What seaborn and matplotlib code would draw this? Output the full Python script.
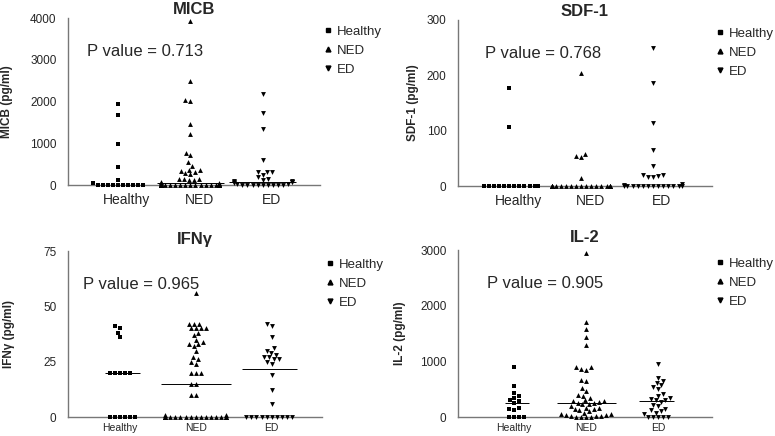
import matplotlib
matplotlib.use('Agg')

import numpy as np
import matplotlib.pyplot as plt
import matplotlib.transforms as mtransforms
from matplotlib.lines import Line2D
import seaborn as sns

sns.set_style("white")
plt.rcParams['font.family'] = ['Liberation Sans', 'DejaVu Sans']

# --- Daten ---
groups = ["Healthy", "NED", "ED"]
markers = ["s", "^", "v"]

micb_healthy = [1950, 1670, 980, 430, 120, 40] + [0] * 10
micb_ned = [3920, 2500, 2040, 2020, 1460, 1220, 760, 720, 540, 460, 370, 350, 330,
            300, 280, 260, 150, 140, 140, 130, 110, 60, 50, 40, 30, 20, 10] + [0] * 20
micb_ed = [2180, 1720, 1330, 600, 320, 310, 300, 250, 180, 150, 120, 100, 90, 80,
           70, 60, 40, 30, 20, 10] + [0] * 8

sdf_healthy = [178, 107] + [0] * 12
sdf_ned = [205, 58, 55, 52, 15] + [0] * 20
sdf_ed = [250, 187, 113, 65, 37, 20, 19, 18, 17, 16, 3, 2] + [0] * 13

ifn_healthy = [41, 40, 38, 36, 20, 20, 20, 20, 20] + [0] * 6
ifn_ned = [56, 42, 42, 42, 40, 40, 40, 40, 38, 37, 35, 34, 33, 33, 32, 30, 27, 26,
           25, 24, 20, 20, 20, 15, 15, 10, 10, 1, 1] + [0] * 18
ifn_ed = [42, 41, 36, 31, 30, 29, 28, 27, 27, 26, 26, 25, 24, 19, 12, 6] + [0] * 10

il2_healthy = [900, 550, 430, 380, 340, 300, 290, 250, 160, 150, 130, 0, 0, 0, 0]
il2_ned = [2950, 1700, 1580, 1430, 1300, 900, 890, 860, 850, 670, 640, 520, 470, 400,
           380, 350, 300, 290, 280, 270, 260, 250, 240, 230, 200, 170, 160, 150, 140,
           120, 100, 80, 60, 50, 40, 30, 20, 20, 10, 0, 0, 0, 0]
il2_ed = [960, 700, 650, 610, 570, 530, 500, 420, 380, 350, 330, 310, 300, 265, 220,
          190, 150, 120, 100, 80, 50, 0, 0, 0, 0, 0]

titles = ["MICB", "SDF-1", "IFNγ", "IL-2"]
ylabels = ["MICB (pg/ml)", "SDF-1 (pg/ml)", "IFNγ (pg/ml)", "IL-2 (pg/ml)"]
pvalues = ["0.713", "0.768", "0.965", "0.905"]
yticks = [[0, 1000, 2000, 3000, 4000], [0, 100, 200, 300],
          [0, 25, 50, 75], [0, 1000, 2000, 3000]]
panel_data = [
    [micb_healthy, micb_ned, micb_ed],
    [sdf_healthy, sdf_ned, sdf_ed],
    [ifn_healthy, ifn_ned, ifn_ed],
    [il2_healthy, il2_ned, il2_ed],
]

# --- Layout ---
W, H = 775, 436
fig = plt.figure(figsize=(W / 100, H / 100), dpi=100)

# (links, rechts, oben, unten) in Pixeln
boxes = [(68, 320, 18, 185), (458, 712, 20, 186), (68, 322, 251, 417), (458, 712, 250, 417)]
xlims = [(-0.69, 2.79), (-0.71, 2.82), (-0.68, 2.66), (-0.78, 2.75)]
ptext_x = [0.075, 0.106, 0.06, 0.114]
ylabel_x = [-0.218, -0.154, -0.209, -0.205]
title_y = [1.05, 1.05, 1.072, 1.072]

axes = []
group_colls = []
for i in range(4):
    l, r, t, b = boxes[i]
    ax = fig.add_axes([l / W, 1 - b / H, (r - l) / W, (b - t) / H])
    axes.append(ax)
    colls = []
    for g, m, vals in zip(groups, markers, panel_data[i]):
        n_before = len(ax.collections)
        sns.swarmplot(x=[g] * len(vals), y=vals, order=groups, color='black', marker=m,
                      size=3.5, linewidth=0, ax=ax, warn_thresh=1.0)
        new = [c for c in ax.collections[n_before:] if len(c.get_offsets()) > 0]
        colls.append(new[0])
    group_colls.append(colls)
    for coll in ax.collections:
        coll.set_clip_on(False)

    ax.set_xlim(*xlims[i])
    ax.set_ylim(0, yticks[i][-1])
    ax.set_yticks(yticks[i])
    ax.set_xlabel('')
    ax.set_ylabel(ylabels[i], fontsize=8.5, fontweight='bold')
    ax.yaxis.set_label_coords(ylabel_x[i], 0.5)

    for s in ['top', 'right']:
        ax.spines[s].set_visible(False)
    for s in ['left', 'bottom']:
        ax.spines[s].set_color('#777777')
        ax.spines[s].set_linewidth(1.0)

    ax.tick_params(axis='y', length=2.2, width=0.8, color='#777777', labelsize=8.5, pad=6)
    if i < 2:
        ax.tick_params(axis='x', length=0, labelsize=10, pad=6)
        shift = mtransforms.ScaledTranslation(0.09, 0, fig.dpi_scale_trans)
        for lab in ax.get_xticklabels():
            lab.set_transform(lab.get_transform() + shift)
    else:
        ax.tick_params(axis='x', length=0, labelsize=7.5, pad=4)

    ax.text(0.5, title_y[i], titles[i], transform=ax.transAxes, ha='center', va='center',
            fontsize=12, fontweight='bold')
    ax.text(ptext_x[i], 0.80, f"P value = {pvalues[i]}", transform=ax.transAxes,
            ha='left', va='center', fontsize=12)

    handles = [Line2D([], [], marker=m, color='black', linestyle='none', markersize=3.5)
               for m in markers]
    ax.legend(handles, groups, loc='upper left', bbox_to_anchor=(0.99, 0.985),
              frameon=False, fontsize=9.5, handletextpad=0.3, labelspacing=0.5,
              handlelength=0.8, borderaxespad=0)

# Swarm-Positionen berechnen lassen, dann Medianlinien über die Punktbreite ziehen
fig.canvas.draw()
for i, ax in enumerate(axes):
    for k, vals in enumerate(panel_data[i]):
        xs = np.asarray(group_colls[i][k].get_offsets())[:, 0]
        ax.hlines(np.median(vals), xs.min() - 0.06, xs.max() + 0.06,
                  color='black', linewidth=0.7, zorder=1)

fig.savefig('out.png', dpi=100)
